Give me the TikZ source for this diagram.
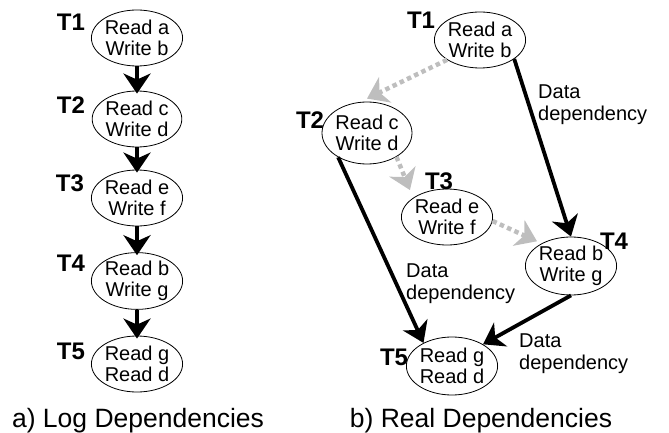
\documentclass[tikz,border=0pt]{standalone}
\usepackage{fontspec}
\setmainfont{Liberation Sans}
\usetikzlibrary{shapes.geometric,arrows.meta}
\definecolor{lgray}{HTML}{BEBEBE}
\begin{document}
\begin{tikzpicture}[x=1pt,y=-1pt,
  tx/.style={ellipse,draw,line width=0.8pt,inner sep=0pt,minimum width=86pt,minimum height=56pt,align=center,font=\fontsize{20}{21.5}\selectfont},
  lbl/.style={font=\fontsize{24}{24}\selectfont\bfseries,inner sep=0pt},
  dep/.style={align=left,anchor=west,font=\fontsize{20}{22}\selectfont,inner sep=0pt},
  captxt/.style={font=\fontsize{26.5}{28}\selectfont,anchor=base,inner sep=0pt},
  blk/.style={line width=3.8pt,-{Stealth[length=20pt,width=27pt,inset=6pt]}},
  gry/.style={line width=4.5pt,draw=lgray,dash pattern=on 4.5pt off 3.5pt,-{Stealth[length=20pt,width=28pt,inset=6pt,fill=lgray,color=lgray]}}
]
\useasboundingbox (0,0) rectangle (669,433);
% left column
\node[tx] (a1) at (137,38) {Read a\\Write b};
\node[tx] (a2) at (137,119) {Read c\\Write d};
\node[tx] (a3) at (137,198) {Read e\\Write f};
\node[tx] (a4) at (137,281) {Read b\\Write g};
\node[tx] (a5) at (137,364) {Read g\\Read d};
\node[lbl] (la1) at (71,22) {T1};
\node[lbl] (la2) at (71,105) {T2};
\node[lbl] (la3) at (70,183) {T3};
\node[lbl] (la4) at (71,263) {T4};
\node[lbl] (la5) at (71,351) {T5};
\draw[blk] (a1.south) -- ([yshift=-3pt]a2.north);
\draw[blk] (a2.south) -- ([yshift=-3pt]a3.north);
\draw[blk] (a3.south) -- ([yshift=-3pt]a4.north);
\draw[blk] (a4.south) -- ([yshift=-3pt]a5.north);
\node[captxt] (ca) at (138,427) {a) Log Dependencies};
% right
\node[tx,minimum width=90pt] (b1) at (480,40) {Read a\\Write b};
\node[tx,minimum width=90pt,minimum height=62pt] (b2) at (367,133) {Read c\\Write d};
\node[tx,minimum width=88pt] (b3) at (447,217) {Read e\\Write f};
\node[tx,minimum width=88pt,minimum height=58pt] (b4) at (571,266) {Read b\\Write g};
\node[tx,minimum width=88pt,minimum height=58pt] (b5) at (452,366) {Read g\\Read d};
\node[lbl] (lb1) at (421,20) {T1};
\node[lbl] (lb2) at (310,120) {T2};
\node[lbl] (lb3) at (439,181) {T3};
\node[lbl] (lb4) at (614,241) {T4};
\node[lbl] (lb5) at (394,357) {T5};
\draw[blk] (b1.-29) -- (b4.north);
\draw[blk] (b2.-140) -- (b5.141);
\draw[blk] (b4.south) -- (b5.35);
\draw[gry] (b1.-149) -- ([yshift=3pt]b2.north);
\draw[gry] (b2.-39) -- ([shift={(-6pt,6pt)}]b3.146);
\draw[gry] (b3.-5) -- ([shift={(-3pt,3pt)}]b4.145);
\node[dep] (d1) at (538,105) {Data\\dependency};
\node[dep] (d2) at (406,284) {Data\\dependency};
\node[dep] (d3) at (519,354) {Data\\dependency};
\node[captxt] (cb) at (481,427) {b) Real Dependencies};
\end{tikzpicture}
\end{document}
